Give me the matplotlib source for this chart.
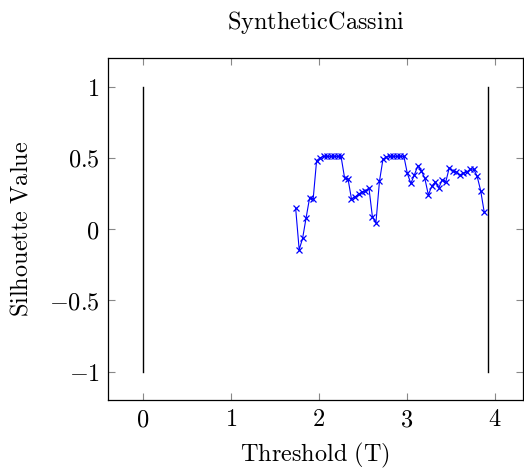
import matplotlib
matplotlib.use("Agg")
import matplotlib.pyplot as plt

plt.rcParams['mathtext.fontset'] = 'cm'
plt.rcParams['font.family'] = 'serif'
plt.rcParams['font.serif'] = ['DejaVu Serif']

threshold = [1.735, 1.775, 1.814, 1.854, 1.894, 1.934, 1.973, 2.013, 2.053, 2.092,
             2.132, 2.172, 2.211, 2.251, 2.291, 2.331, 2.370, 2.410, 2.450, 2.489,
             2.529, 2.569, 2.608, 2.648, 2.688, 2.728, 2.767, 2.807, 2.847, 2.886,
             2.926, 2.966, 3.005, 3.045, 3.085, 3.125, 3.164, 3.204, 3.244, 3.283,
             3.323, 3.363, 3.402, 3.442, 3.482, 3.521, 3.561, 3.601, 3.641, 3.680,
             3.720, 3.760, 3.799, 3.839, 3.879]
silhouette = [0.145, -0.145, -0.065, 0.08, 0.22, 0.21, 0.48, 0.50, 0.51, 0.51,
              0.51, 0.51, 0.51, 0.51, 0.36, 0.35, 0.21, 0.225, 0.245, 0.26,
              0.27, 0.285, 0.085, 0.045, 0.335, 0.49, 0.505, 0.51, 0.51, 0.51,
              0.51, 0.51, 0.39, 0.32, 0.38, 0.445, 0.41, 0.355, 0.24, 0.30,
              0.33, 0.29, 0.345, 0.33, 0.43, 0.41, 0.40, 0.38, 0.39, 0.40,
              0.42, 0.42, 0.37, 0.27, 0.12]
bounds_x = [0.0, 3.92]
bounds_y = [-1.0, 1.0]
xticks = [0, 1, 2, 3, 4]
yticks = [-1, -0.5, 0, 0.5, 1]

fig = plt.figure(figsize=(5.24, 4.72), dpi=100)
ax = fig.add_axes([0.206, 0.1525, 0.792, 0.7245])

for bx in bounds_x:
    ax.plot([bx, bx], bounds_y, color='black', lw=1.0)
ax.plot(threshold, silhouette, color='blue', lw=0.8, marker='x', ms=4, mew=0.9)

ax.set_xlim(-0.4, 4.32)
ax.set_ylim(-1.2, 1.2)
ax.set_xticks(xticks)
ax.set_yticks(yticks)

def fmt(v):
    return r'$' + ('%g' % v) + r'$'

fs = 17.5
ax.set_xticklabels([fmt(v) for v in xticks], fontsize=fs)
ax.set_yticklabels([fmt(v) for v in yticks], fontsize=fs)
ax.tick_params(direction='in', top=True, right=True, length=5, width=0.8,
               color='#888888', pad=6)
for s in ax.spines.values():
    s.set_linewidth(0.9)

ax.set_xlabel(r'$\mathrm{Threshold\ (T)}$', fontsize=fs, labelpad=7)
ax.set_ylabel(r'$\mathrm{Silhouette\ Value}$', fontsize=fs, labelpad=12)
ax.set_title(r'$\mathrm{SyntheticCassini}$', fontsize=fs, pad=21)

fig.savefig('out.png', dpi=100)
